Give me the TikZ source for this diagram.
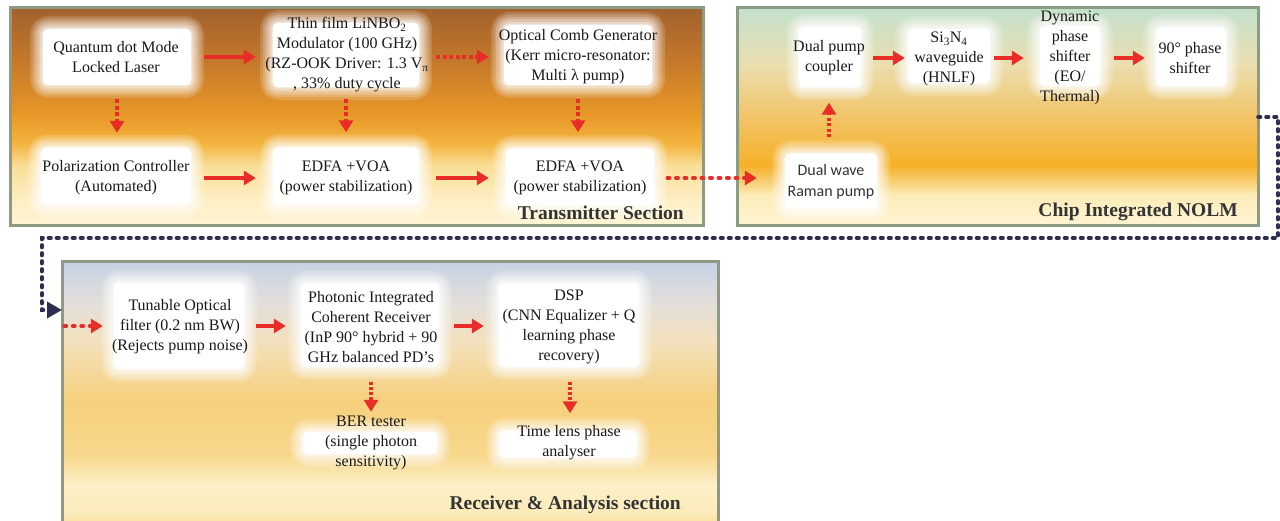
\documentclass[tikz,border=0pt]{standalone}
\usepackage{fontspec}
\setmainfont{Liberation Serif}
\newfontfamily\calfont{Carlito}
\usetikzlibrary{arrows.meta,shadows}
\definecolor{red0}{RGB}{232,45,40}
\definecolor{navy0}{RGB}{45,45,82}
\definecolor{frame0}{RGB}{140,155,130}
% transmitter shading colours (bottom -> top)
\definecolor{ta}{RGB}{255,245,215}
\definecolor{tb}{RGB}{253,238,195}
\definecolor{tc}{RGB}{250,222,150}
\definecolor{td}{RGB}{243,182,65}
\definecolor{te}{RGB}{232,152,40}
\definecolor{tf}{RGB}{196,120,42}
\definecolor{tg}{RGB}{162,98,45}
\pgfdeclareverticalshading{txsh}{100bp}{color(0bp)=(ta); color(25bp)=(ta); color(31bp)=(tb); color(39bp)=(tc); color(43.6bp)=(td); color(50.5bp)=(te); color(63bp)=(tf); color(75bp)=(tg); color(100bp)=(tg)}
% NOLM shading
\definecolor{na}{RGB}{255,245,212}
\definecolor{nb}{RGB}{253,236,185}
\definecolor{nc}{RGB}{248,200,100}
\definecolor{nd}{RGB}{246,176,40}
\definecolor{ne}{RGB}{242,195,100}
\definecolor{nf}{RGB}{235,222,175}
\definecolor{ng}{RGB}{195,225,205}
\pgfdeclareverticalshading{nolmsh}{100bp}{color(0bp)=(na); color(25bp)=(na); color(32bp)=(nb); color(36bp)=(nc); color(39bp)=(nd); color(49.3bp)=(ne); color(62bp)=(nf); color(75bp)=(ng); color(100bp)=(ng)}
% receiver shading
\definecolor{ra}{RGB}{248,215,130}
\definecolor{rb}{RGB}{252,235,185}
\definecolor{rc}{RGB}{253,240,200}
\definecolor{rd}{RGB}{248,215,140}
\definecolor{re}{RGB}{246,208,125}
\definecolor{rf}{RGB}{243,225,190}
\definecolor{rg}{RGB}{225,222,220}
\definecolor{rh}{RGB}{198,210,228}
\pgfdeclareverticalshading{rxsh}{100bp}{color(0bp)=(ra); color(25bp)=(ra); color(27.8bp)=(rb); color(33.4bp)=(rc); color(39bp)=(rd); color(49.3bp)=(re); color(60.4bp)=(rf); color(67.9bp)=(rg); color(75bp)=(rh); color(100bp)=(rh)}
\tikzset{
  frame/.style={draw=frame0, line width=3pt, shade, inner sep=0pt, outer sep=0pt,
    drop shadow={shadow xshift=1.5pt, shadow yshift=-1.5pt, opacity=0.25}},
  glow/.style={fill=white, rounded corners=5pt, inner sep=0pt, line join=round,
    preaction={draw=white, draw opacity=0.16, line width=26pt},
    preaction={draw=white, draw opacity=0.18, line width=21pt},
    preaction={draw=white, draw opacity=0.22, line width=16pt},
    preaction={draw=white, draw opacity=0.26, line width=11pt},
    preaction={draw=white, draw opacity=0.32, line width=6pt},
    preaction={draw=white, draw opacity=0.4, line width=2pt}},
  txt/.style={align=center, inner sep=0pt, font=\fontsize{16}{20}\selectfont, text=black!90},
  sanstxt/.style={align=center, inner sep=0pt, font=\calfont\fontsize{16}{21}\selectfont, text=black!80},
  title/.style={inner sep=0pt, font=\bfseries\fontsize{19.5}{21}\selectfont, text=black!80},
  arr/.style={draw=red0, line width=3.2pt, -{Triangle[length=12pt,width=14pt]}},
  dsh/.style={arr, dash pattern=on 4pt off 2.5pt},
  rdot/.style={arr, line width=3.4pt, dash pattern=on 2.5pt off 6pt, line cap=round},
  dkdot/.style={draw=navy0, line width=3.6pt, dash pattern=on 2.5pt off 5.5pt, line cap=round,
    -{Triangle[length=15pt,width=16pt]}}
}
\begin{document}
\begin{tikzpicture}[x=1pt,y=-1pt]
\useasboundingbox[fill=white] (0,0) rectangle (1280,521);
% frames
\node[frame, shading=txsh, minimum width=693pt, minimum height=218pt] (tx) at (356.5,117) {};
\node[frame, shading=nolmsh, minimum width=521pt, minimum height=218pt] (nolm) at (997.5,117) {};
\node[frame, shading=rxsh, minimum width=656pt, minimum height=268pt] (rx) at (390,396) {};
% glow boxes - transmitter
\node[glow, minimum width=148pt, minimum height=56pt] (qd) at (117,57) {};
\node[glow, minimum width=146pt, minimum height=64pt] (mod) at (346,55) {};
\node[glow, minimum width=148pt, minimum height=60pt] (comb) at (578,55) {};
\node[glow, minimum width=150pt, minimum height=56pt] (pc) at (116,176) {};
\node[glow, minimum width=146pt, minimum height=57pt] (edfa1) at (346,176) {};
\node[glow, minimum width=148pt, minimum height=57pt] (edfa2) at (580,177) {};
% glow boxes - NOLM
\node[glow, minimum width=62pt, minimum height=61pt] (dual) at (830,57) {};
\node[glow, minimum width=82pt, minimum height=54pt] (si) at (949,56) {};
\node[glow, minimum width=60pt, minimum height=60pt] (dyn) at (1070,56) {};
\node[glow, minimum width=70pt, minimum height=59pt] (ph) at (1191,57) {};
\node[glow, minimum width=92pt, minimum height=55pt] (raman) at (831,181) {};
% glow boxes - receiver
\node[glow, minimum width=130pt, minimum height=86pt] (tun) at (179,326) {};
\node[glow, minimum width=138pt, minimum height=83pt] (pic) at (370,325) {};
\node[glow, minimum width=140pt, minimum height=84pt] (dsp) at (569,325) {};
\node[glow, minimum width=134pt, minimum height=22pt] (ber) at (370,443) {};
\node[glow, minimum width=138pt, minimum height=27pt] (tl) at (568,444) {};
% texts
\node[txt] (tqd) at (116,57) {Quantum dot Mode\\Locked Laser};
\node[txt] (tmod) at (347,55) {Thin film LiNBO\textsubscript{2}\\Modulator (100 GHz)\\(RZ-OOK Driver: 1.3 V\textsubscript{π}\\, 33\% duty cycle};
\node[txt] (tcomb) at (578,57) {Optical Comb Generator\\(Kerr micro-resonator:\\Multi λ pump)};
\node[txt] (tpc) at (116,178) {Polarization Controller\\(Automated)};
\node[txt] (tedfa1) at (346,178) {EDFA +VOA\\(power stabilization)};
\node[txt] (tedfa2) at (580,178) {EDFA +VOA\\(power stabilization)};
\node[title, anchor=east] (ttx) at (684,213) {Transmitter Section};
\node[txt] (tdual) at (829,58) {Dual pump\\coupler};
\node[txt] (tsi) at (949,59) {Si\textsubscript{3}N\textsubscript{4}\\waveguide\\(HNLF)};
\node[txt] (tdyn) at (1070,58) {Dynamic\\phase\\shifter\\(EO/\\Thermal)};
\node[txt] (tph) at (1190,58) {90° phase\\shifter};
\node[sanstxt] (traman) at (831,182) {Dual wave\\Raman pump};
\node[title, anchor=east] (tnolm) at (1238,212) {Chip Integrated NOLM};
\node[txt] (ttun) at (180,327) {Tunable Optical\\filter (0.2 nm BW)\\(Rejects pump noise)};
\node[txt] (tpic) at (371,327) {Photonic Integrated\\Coherent Receiver\\(InP 90° hybrid + 90\\GHz balanced PD’s};
\node[txt] (tdsp) at (569,327) {DSP\\(CNN Equalizer + Q\\learning phase\\recovery)};
\node[txt] (tber) at (371,443) {BER tester\\(single photon\\sensitivity)};
\node[txt] (ttl) at (569,443) {Time lens phase\\analyser};
\node[title, anchor=east] (trx) at (681,505) {Receiver \& Analysis section};
% transmitter arrows
\draw[arr, shorten <=13pt, shorten >=17pt] (qd.east) -- (qd.east -| mod.west);
\draw[dsh, shorten <=17pt, shorten >=15pt] (mod.east |- qd.east) -- (qd.east -| comb.west);
\draw[dsh, shorten <=14pt, shorten >=15pt] (qd.south) -- (qd.south |- pc.north);
\draw[dsh, shorten <=12pt, shorten >=15pt] (mod.south) -- (edfa1.north);
\draw[dsh, shorten <=14pt, shorten >=16pt] (comb.south) -- (comb.south |- edfa2.north);
\draw[arr, shorten <=13pt, shorten >=17pt] (pc.east |- 0,178) -- (edfa1.west |- 0,178);
\draw[arr, shorten <=17pt, shorten >=17pt] (edfa1.east |- 0,178) -- (edfa2.west |- 0,178);
\draw[rdot, shorten <=13pt, shorten >=28pt] (edfa2.east |- 0,178) -- (raman.west |- 0,178);
% NOLM arrows
\draw[arr, shorten <=12pt, shorten >=3pt] (dual.east |- 0,58) -- (si.west |- 0,58);
\draw[arr, shorten <=4pt, shorten >=16pt] (si.east |- 0,58) -- (dyn.west |- 0,58);
\draw[arr, shorten <=14pt, shorten >=11pt] (dyn.east |- 0,58) -- (ph.west |- 0,58);
\draw[dsh, dash pattern=on 3pt off 2.5pt, shorten <=16pt, shorten >=15pt] (raman.north -| 829,0) -- (dual.south -| 829,0);
% receiver arrows
\draw[rdot, shorten <=2pt, shorten >=11pt] (rx.west |- 0,326) -- (tun.west |- 0,326);
\draw[arr, shorten <=12pt, shorten >=15pt] (tun.east |- 0,326) -- (pic.west |- 0,326);
\draw[arr, shorten <=15pt, shorten >=15pt] (pic.east |- 0,326) -- (dsp.west |- 0,326);
\draw[dsh, dash pattern=on 3pt off 2pt, shorten <=15pt, shorten >=20pt] (pic.south -| 371,0) -- (ber.north -| 371,0);
\draw[dsh, dash pattern=on 3pt off 2pt, shorten <=15pt, shorten >=17pt] (dsp.south -| 570,0) -- (tl.north -| 570,0);
% dark dotted link NOLM -> receiver
\coordinate (c1) at (1278,117);
\coordinate (c2) at (42,238);
\coordinate (c3) at (62,310);
\draw[dkdot] (nolm.east) -- (c1) |- (c2) |- (c3);
\end{tikzpicture}
\end{document}
